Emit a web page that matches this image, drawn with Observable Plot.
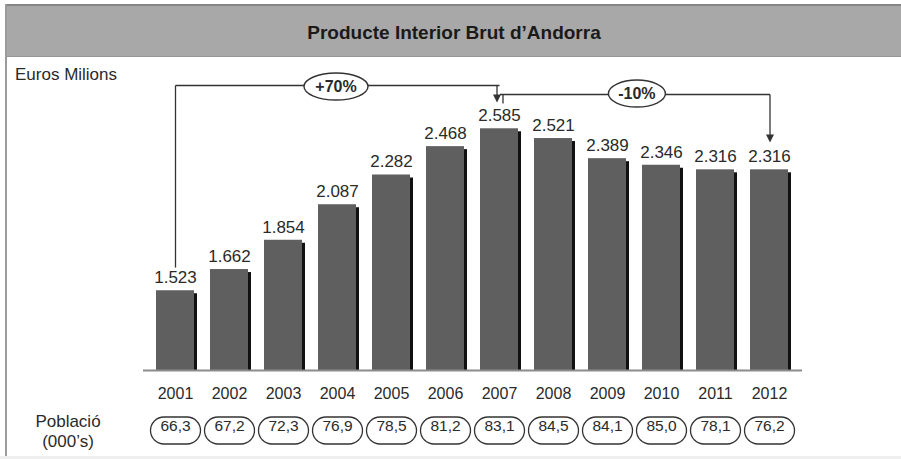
<!DOCTYPE html>
<html>
<head>
<meta charset="utf-8">
<script src="https://cdn.jsdelivr.net/npm/d3@7"></script>
<script src="https://cdn.jsdelivr.net/npm/@observablehq/plot@0.6"></script>
<style>
  html, body { margin: 0; padding: 0; background: #ffffff; }
  body { width: 901px; height: 459px; position: relative; overflow: hidden; font-family: Arial, "Liberation Sans", sans-serif; color: #2a2a2a; }
  #outer { position: absolute; left: 5px; top: 4px; width: 896px; height: 452px; border-left: 2px solid #9b9b9b; box-sizing: border-box; background: #fff; }
  #banner { height: 53px; background: #a8a8a8; border-top: 2px solid #858585; border-bottom: 1px solid #959595; box-sizing: border-box; text-align: center; font-weight: bold; font-size: 19px; line-height: 54px; color: #1a1a1a; }
  #chart { position: relative; height: 399px; }
  #chart svg { position: absolute; left: 0; top: 0; }
  .lbl { position: absolute; font-size: 17px; color: #2a2a2a; white-space: nowrap; }
  #strip { position: absolute; left: 0; top: 456px; width: 901px; height: 3px; background: #efefef; }
</style>
</head>
<body>
<div id="outer">
  <div id="banner">Producte Interior Brut d’Andorra</div>
  <div id="chart">
    <div class="lbl" style="left:8px; top:8px; line-height:20px;">Euros Milions</div>
    <div class="lbl" style="left:11px; top:355px; width:100px; text-align:center; line-height:20px;">Població<br>(000’s)</div>
  </div>
</div>
<div id="strip"></div>
<script>
// ---- data ----
const years = ["2001","2002","2003","2004","2005","2006","2007","2008","2009","2010","2011","2012"];
const gdp = [1523, 1662, 1854, 2087, 2282, 2468, 2585, 2521, 2389, 2346, 2316, 2316];
const population = [66.3, 67.2, 72.3, 76.9, 78.5, 81.2, 83.1, 84.5, 84.1, 85.0, 78.1, 76.2];
const changeLabels = ["+70%", "-10%"];

// ---- table ----
const table = years.map((year, i) => ({year, gdp: gdp[i], pop: population[i]}));
const locale = d3.formatLocale({decimal: ",", thousands: ".", grouping: [3], currency: ["", "€"]});
const fmtGdp = locale.format(",d");
const fmtPop = locale.format(".1f");

// ---- annotation geometry (in data units) ----
const base = 1000;
const lvl1 = 2869, low1 = 1675, tip1 = 2757;
const lvl2 = 2810, low2 = 2751, tip2 = 2495;

function ellipse(w, h) {
  const rx = w / 2, ry = h / 2, k = 0.5523;
  return {draw(c) {
    c.moveTo(rx, 0);
    c.bezierCurveTo(rx, ry * k, rx * k, ry, 0, ry);
    c.bezierCurveTo(-rx * k, ry, -rx, ry * k, -rx, 0);
    c.bezierCurveTo(-rx, -ry * k, -rx * k, -ry, 0, -ry);
    c.bezierCurveTo(rx * k, -ry, rx, -ry * k, rx, 0);
    c.closePath();
  }};
}
function pill(w, h) {
  const r = h / 2, a = w / 2 - r;
  return {draw(c) {
    c.moveTo(-a, -r);
    c.lineTo(a, -r);
    c.arc(a, 0, r, -Math.PI / 2, Math.PI / 2);
    c.lineTo(-a, r);
    c.arc(-a, 0, r, Math.PI / 2, 3 * Math.PI / 2);
    c.closePath();
  }};
}
const arrowHead = {draw(c) { c.moveTo(-4, -8); c.lineTo(4, -8); c.lineTo(0, 0); c.closePath(); }};

const ink = "#2a2a2a";
const plot = Plot.plot({
  width: 894,
  height: 399,
  marginTop: 8,
  marginBottom: 86,
  marginLeft: 129,
  marginRight: 93,
  x: {domain: years, padding: 0.3, axis: null},
  y: {domain: [base, 3000], axis: null},
  style: {fontFamily: "Arial, 'Liberation Sans', sans-serif", background: "transparent", overflow: "visible"},
  marks: [
    // bar shadows and bars
    Plot.barY(table, {x: "year", y1: base, y2: "gdp", fill: "#111111", dx: 3, insetTop: 3}),
    Plot.barY(table, {x: "year", y1: base, y2: "gdp", fill: "#5f5f5f"}),
    Plot.ruleY([base], {stroke: "#8c8c8c", strokeWidth: 2, insetLeft: 7, insetRight: 6}),
    // value labels
    Plot.text(table, {x: "year", y: "gdp", text: d => fmtGdp(d.gdp), dy: -13, fontSize: 17, fill: ink}),
    // year labels
    Plot.text(table, {x: "year", text: "year", frameAnchor: "bottom", dy: 28, fontSize: 16, fill: ink}),
    // population pills
    Plot.dot(table, {x: "year", frameAnchor: "bottom", dy: 60, symbol: pill(50, 27), fill: "white", stroke: "#333", strokeWidth: 1.3}),
    Plot.text(table, {x: "year", text: d => fmtPop(d.pop), frameAnchor: "bottom", dy: 60, fontSize: 15.5, fill: ink}),
    // +70% bracket
    Plot.link([{x1: years[0], y1: low1, x2: years[0], y2: lvl1}, {x1: years[0], y1: lvl1, x2: years[6], y2: lvl1}],
      {x1: "x1", y1: "y1", x2: "x2", y2: "y2", stroke: "#333", strokeWidth: 1.3}),
    Plot.link([{x1: years[6], y1: lvl1, x2: years[6], y2: tip1 + 40}],
      {x1: "x1", y1: "y1", x2: "x2", y2: "y2", stroke: "#333", strokeWidth: 1.3, dx: -2.5}),
    Plot.dot([{x: years[6], y: tip1}], {x: "x", y: "y", symbol: arrowHead, fill: "#333", stroke: "none", dx: -2.5}),
    // -10% bracket
    Plot.link([{x1: years[6], y1: low2, x2: years[6], y2: lvl2}],
      {x1: "x1", y1: "y1", x2: "x2", y2: "y2", stroke: "#333", strokeWidth: 1.3, dx: 3.5}),
    Plot.link([{x1: years[6], y1: lvl2, x2: years[11], y2: lvl2}, {x1: years[11], y1: lvl2, x2: years[11], y2: tip2 + 40}],
      {x1: "x1", y1: "y1", x2: "x2", y2: "y2", stroke: "#333", strokeWidth: 1.3, dx: 0.5}),
    Plot.dot([{x: years[11], y: tip2}], {x: "x", y: "y", symbol: arrowHead, fill: "#333", stroke: "none", dx: 0.5}),
    // change ovals
    Plot.dot([{x: years[3], y: 2862}], {x: "x", y: "y", symbol: ellipse(64, 27), fill: "white", stroke: "#333", strokeWidth: 1.4, dx: -1.5}),
    Plot.text([{x: years[3], y: 2862, t: changeLabels[0]}], {x: "x", y: "y", text: "t", fontSize: 16, fontWeight: "bold", fill: ink, dx: -1.5}),
    Plot.dot([{x: years[8], y: 2816}], {x: "x", y: "y", symbol: ellipse(57, 27), fill: "white", stroke: "#333", strokeWidth: 1.4, dx: 29.4}),
    Plot.text([{x: years[8], y: 2816, t: changeLabels[1]}], {x: "x", y: "y", text: "t", fontSize: 16, fontWeight: "bold", fill: ink, dx: 29.4})
  ]
});
document.getElementById("chart").appendChild(plot);
</script>
</body>
</html>
